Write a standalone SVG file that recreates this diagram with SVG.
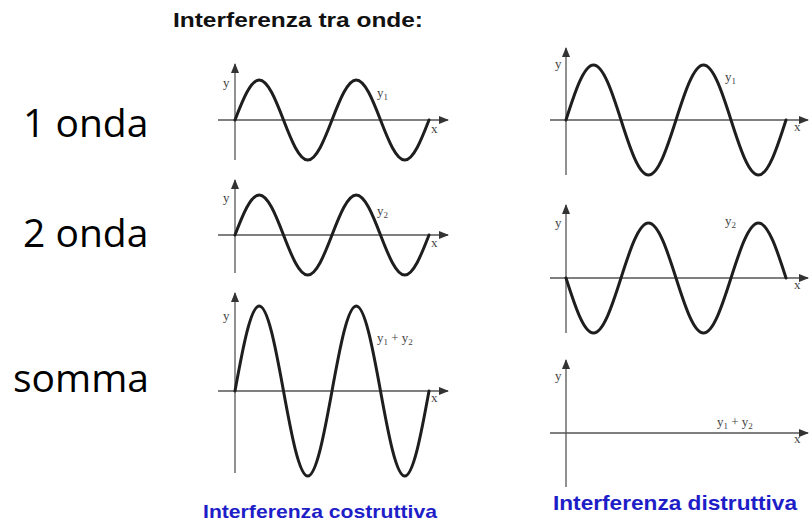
<svg xmlns="http://www.w3.org/2000/svg" width="809" height="524" viewBox="0 0 809 524">
<defs>
<marker id="arr" markerUnits="userSpaceOnUse" markerWidth="10" markerHeight="8" refX="9" refY="4" orient="auto">
<path d="M0,0 L10,4 L0,8 Z" fill="#333"/>
</marker>
<style>
.ax{stroke:#555;stroke-width:1.3;fill:none;marker-end:url(#arr)}
.wv{stroke:#1e1e1e;stroke-width:3;fill:none;stroke-linecap:round}
.lb{font-family:"Liberation Serif",serif;font-size:13px;fill:#444}
.sub{font-size:9px}
.side{font-family:"Open Sans",sans-serif;font-size:39px;fill:#000}
.ttl{font-family:"Liberation Sans",Arial,sans-serif;font-weight:bold;fill:#111}
.blue{font-family:"Liberation Sans",Arial,sans-serif;font-weight:bold;fill:#1e1ec8}
</style>
</defs>
<rect width="809" height="524" fill="#fff"/>
<text class="ttl" x="173" y="27" font-size="20" textLength="250" lengthAdjust="spacingAndGlyphs">Interferenza tra onde:</text>
<text class="side" x="23" y="137">1 onda</text>
<text class="side" x="23" y="247">2 onda</text>
<text class="side" x="13" y="392">somma</text>
<g id="left1">
<line class="ax" x1="235" y1="160" x2="235" y2="64"/>
<line class="ax" x1="218" y1="120" x2="448" y2="120"/>
<path class="wv" d="M235,120 c7.91,-20.49 15.73,-40 24.25,-40 s16.34,19.51 24.25,40 s15.73,40 24.25,40 s16.34,-19.51 24.25,-40 s15.73,-40 24.25,-40 s16.34,19.51 24.25,40 s15.73,40 24.25,40 s16.34,-19.51 24.25,-40"/>
<text class="lb" x="223" y="87">y</text>
<text class="lb" x="377" y="97">y<tspan class="sub" dy="3">1</tspan></text>
<text class="lb" x="431" y="133">x</text>
</g>
<g id="left2">
<line class="ax" x1="235" y1="273" x2="235" y2="180"/>
<line class="ax" x1="218" y1="235" x2="448" y2="235"/>
<path class="wv" d="M235,235 c7.91,-20.49 15.73,-40 24.25,-40 s16.34,19.51 24.25,40 s15.73,40 24.25,40 s16.34,-19.51 24.25,-40 s15.73,-40 24.25,-40 s16.34,19.51 24.25,40 s15.73,40 24.25,40 s16.34,-19.51 24.25,-40"/>
<text class="lb" x="223" y="202">y</text>
<text class="lb" x="377" y="215">y<tspan class="sub" dy="3">2</tspan></text>
<text class="lb" x="431" y="247">x</text>
</g>
<g id="left3">
<line class="ax" x1="235" y1="473" x2="235" y2="293"/>
<line class="ax" x1="218" y1="391" x2="448" y2="391"/>
<path class="wv" d="M235,391 c7.91,-43.54 15.73,-85 24.25,-85 s16.34,41.46 24.25,85 s15.73,85 24.25,85 s16.34,-41.46 24.25,-85 s15.73,-85 24.25,-85 s16.34,41.46 24.25,85 s15.73,85 24.25,85 s16.34,-41.46 24.25,-85"/>
<text class="lb" x="223" y="320">y</text>
<text class="lb" x="377" y="342">y<tspan class="sub" dy="3">1</tspan><tspan dy="-3"> + y</tspan><tspan class="sub" dy="3">2</tspan></text>
<text class="lb" x="431" y="402">x</text>
</g>
<g id="right1">
<line class="ax" x1="566" y1="175" x2="566" y2="48"/>
<line class="ax" x1="550" y1="120" x2="808" y2="120"/>
<path class="wv" d="M566,120 c8.97,-28.17 17.83,-55 27.5,-55 s18.53,26.83 27.5,55 s17.83,55 27.5,55 s18.53,-26.83 27.5,-55 s17.83,-55 27.5,-55 s18.53,26.83 27.5,55 s17.83,55 27.5,55 s18.53,-26.83 27.5,-55"/>
<text class="lb" x="555" y="68">y</text>
<text class="lb" x="725" y="81">y<tspan class="sub" dy="3">1</tspan></text>
<text class="lb" x="794" y="131">x</text>
</g>
<g id="right2">
<line class="ax" x1="566" y1="333" x2="566" y2="205"/>
<line class="ax" x1="550" y1="278" x2="808" y2="278"/>
<path class="wv" d="M566,278 c8.97,28.17 17.83,55 27.5,55 s18.53,-26.83 27.5,-55 s17.83,-55 27.5,-55 s18.53,26.83 27.5,55 s17.83,55 27.5,55 s18.53,-26.83 27.5,-55 s17.83,-55 27.5,-55 s18.53,26.83 27.5,55"/>
<text class="lb" x="555" y="227">y</text>
<text class="lb" x="725" y="225">y<tspan class="sub" dy="3">2</tspan></text>
<text class="lb" x="794" y="289">x</text>
</g>
<g id="right3">
<line class="ax" x1="566" y1="487" x2="566" y2="360"/>
<line class="ax" x1="550" y1="433" x2="808" y2="433"/>
<text class="lb" x="555" y="380">y</text>
<text class="lb" x="717" y="426">y<tspan class="sub" dy="3">1</tspan><tspan dy="-3"> + y</tspan><tspan class="sub" dy="3">2</tspan></text>
<text class="lb" x="794" y="443">x</text>
</g>
<text class="blue" x="203" y="518" font-size="19" textLength="234" lengthAdjust="spacingAndGlyphs">Interferenza costruttiva</text>
<text class="blue" x="553" y="510" font-size="21" textLength="244" lengthAdjust="spacingAndGlyphs">Interferenza distruttiva</text>
</svg>
